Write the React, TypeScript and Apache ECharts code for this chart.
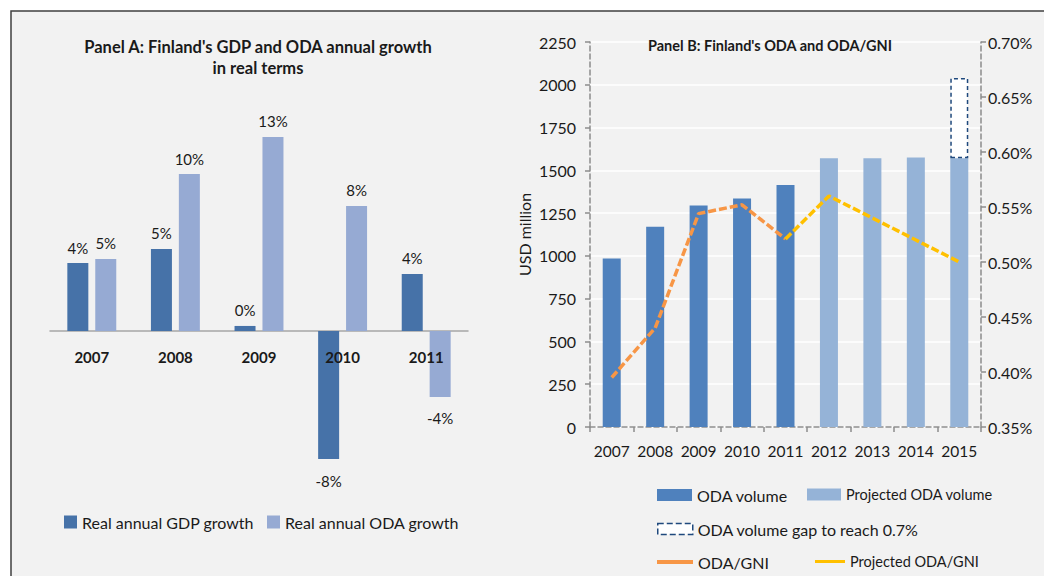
import React, { useEffect, useRef } from 'react';
import * as echarts from 'echarts';

// ---------- Panel A data ----------
const panelAYears = ['2007', '2008', '2009', '2010', '2011'];
const gdpGrowth = [4.44, 5.36, 0.33, -8.37, 3.73];
const odaGrowth = [4.71, 10.26, 12.68, 8.17, -4.31];

// ---------- Panel B data ----------
const panelBYears = ['2007', '2008', '2009', '2010', '2011', '2012', '2013', '2014', '2015'];
const odaVolume = [985, 1170, 1295, 1335, 1415, null, null, null, null];
const projectedOdaVolume = [null, null, null, null, null, 1570, 1570, 1575, 1570];
const odaGap = [null, null, null, null, null, null, null, null, 470];
const odaGni = [0.395, 0.44, 0.544, 0.552, 0.521, null, null, null, null];
const projectedOdaGni = [null, null, null, null, 0.521, 0.56, 0.54, 0.52, 0.5];

const FONT = 'Lato, "Open Sans", sans-serif';
const TXT = '#1a1a1a';
const AXIS_GRAY = '#8c8c8c';

const toPctUnits = (arr: (number | null)[]) => arr.map((v) => (v == null ? null : Math.round(v * 1000) / 10));

function barLabelData(arr: number[]) {
  return arr.map((v) => ({
    value: v,
    label: { position: v < 0 ? 'bottom' : 'top', distance: v < 0 ? 14 : 8 },
  }));
}

export default function App() {
  const ref = useRef<HTMLDivElement>(null);
  useEffect(() => {
    if (!ref.current) return;
    const chart = echarts.init(ref.current, null, { renderer: 'svg' });
    const legendText = { fontSize: 16, color: TXT, fontFamily: FONT };
    const titleStyle = {
      align: 'center',
      verticalAlign: 'middle',
      fontWeight: 'bold',
      fontFamily: FONT,
      fill: TXT,
    };
    const option: any = {
      animation: false,
      backgroundColor: '#ffffff',
      textStyle: { fontFamily: FONT },
      graphic: [
        {
          type: 'rect',
          z: -10,
          shape: { x: 11, y: 11, width: 1100, height: 700 },
          style: { fill: '#f2f2f2', stroke: '#404040', lineWidth: 1.5 },
        },
        {
          type: 'text', z: 10, x: 258, y: 47,
          style: { ...titleStyle, text: "Panel A: Finland's GDP and ODA annual growth", fontSize: 16.5 },
        },
        {
          type: 'text', z: 10, x: 258, y: 68,
          style: { ...titleStyle, text: 'in real terms', fontSize: 16.5 },
        },
        {
          type: 'text', z: 10, x: 770, y: 45,
          style: { ...titleStyle, text: "Panel B: Finland's ODA and ODA/GNI", fontSize: 14.5 },
        },
      ],
      legend: [
        {
          data: [{ name: 'Real annual GDP growth', icon: 'rect' }],
          left: 64, top: 514, padding: 0, itemWidth: 13, itemHeight: 13,
          selectedMode: false, textStyle: legendText,
        },
        {
          data: [{ name: 'Real annual ODA growth', icon: 'rect' }],
          left: 267, top: 514, padding: 0, itemWidth: 13, itemHeight: 13,
          selectedMode: false, textStyle: legendText,
        },
        {
          data: [{ name: 'ODA volume', icon: 'rect' }],
          left: 657, top: 487, padding: 0, itemWidth: 35, itemHeight: 12,
          selectedMode: false, textStyle: legendText,
        },
        {
          data: [{ name: 'Projected ODA volume', icon: 'rect' }],
          left: 807, top: 487, padding: 0, itemWidth: 34, itemHeight: 12,
          selectedMode: false, textStyle: { ...legendText, fontSize: 14.5 },
        },
        {
          data: [{ name: 'ODA volume gap to reach 0.7%', icon: 'rect' }],
          left: 657, top: 521, padding: 0, itemWidth: 35, itemHeight: 11,
          selectedMode: false, textStyle: legendText,
          itemStyle: { color: '#ffffff', borderColor: '#1f497d', borderWidth: 1.5, borderType: 'dashed' },
        },
        {
          data: [{ name: 'ODA/GNI', icon: 'rect' }],
          left: 657, top: 554, padding: 0, itemWidth: 36, itemHeight: 4,
          selectedMode: false, textStyle: legendText,
          itemStyle: { color: '#f79646', borderWidth: 0 },
        },
        {
          data: [{ name: 'Projected ODA/GNI', icon: 'rect' }],
          left: 815, top: 554, padding: 0, itemWidth: 30, itemHeight: 3,
          selectedMode: false, textStyle: { ...legendText, fontSize: 14.5 },
          itemStyle: { color: '#ffc000', borderWidth: 0 },
        },
      ],
      grid: [
        // Panel A bars
        { left: 50, width: 418, top: 101.5, height: 382.5 },
        // Panel B
        { left: 590, width: 391, top: 42, height: 385 },
        // Panel A category labels (grid ending at the zero line)
        { left: 50, width: 418, top: 101.5, height: 229.5 },
      ],
      xAxis: [
        {
          type: 'category',
          gridIndex: 0,
          data: panelAYears,
          axisLine: { onZero: true, lineStyle: { color: '#a6a6a6', width: 1.5 } },
          axisTick: { show: false },
          axisLabel: { show: false },
          splitLine: { show: false },
        },
        {
          type: 'category',
          gridIndex: 1,
          data: panelBYears,
          axisLine: { lineStyle: { color: AXIS_GRAY, width: 1.5, type: [5, 3] } },
          axisTick: { show: true, length: 5, lineStyle: { color: AXIS_GRAY, width: 1.5 } },
          axisLabel: { fontSize: 15.5, color: TXT, margin: 16, fontFamily: FONT, interval: 0 },
          splitLine: { show: false },
        },
        {
          type: 'category',
          gridIndex: 2,
          z: 10,
          data: panelAYears,
          axisLine: { show: false },
          axisTick: { show: false },
          axisLabel: { fontSize: 15, fontWeight: 'bold', color: TXT, margin: 18, fontFamily: FONT, interval: 0 },
          splitLine: { show: false },
        },
      ],
      yAxis: [
        {
          type: 'value',
          gridIndex: 0,
          min: -10,
          max: 15,
          interval: 5,
          show: false,
          splitLine: { show: false },
        },
        {
          type: 'value',
          gridIndex: 1,
          min: 0,
          max: 2250,
          interval: 250,
          name: 'USD million',
          nameLocation: 'middle',
          nameGap: 58,
          nameTextStyle: { fontSize: 16, color: TXT, fontFamily: FONT },
          axisLine: { show: true, lineStyle: { color: AXIS_GRAY, width: 1.5, type: [5, 3] } },
          axisTick: { show: true, length: 5, lineStyle: { color: AXIS_GRAY, width: 1.5 } },
          axisLabel: {
            fontSize: 16, color: TXT, margin: 14, fontFamily: FONT,
            formatter: (v: number) => String(v),
          },
          splitLine: { show: true, lineStyle: { color: '#ffffff', width: 1.5 } },
        },
        {
          type: 'value',
          gridIndex: 1,
          position: 'right',
          min: 35,
          max: 70,
          interval: 5,
          axisLine: { show: true, lineStyle: { color: AXIS_GRAY, width: 1.5, type: [5, 3] } },
          axisTick: { show: true, length: 5, lineStyle: { color: AXIS_GRAY, width: 1.5 } },
          axisLabel: {
            fontSize: 16,
            color: TXT,
            margin: 7,
            fontFamily: FONT,
            formatter: (v: number) => (v / 100).toFixed(2) + '%',
          },
          splitLine: { show: false },
        },
        {
          type: 'value',
          gridIndex: 2,
          min: 0,
          max: 1,
          show: false,
          splitLine: { show: false },
        },
      ],
      series: [
        {
          name: 'Real annual GDP growth',
          type: 'bar',
          xAxisIndex: 0,
          yAxisIndex: 0,
          barWidth: 21,
          barGap: '33%',
          data: barLabelData(gdpGrowth),
          itemStyle: { color: '#4672a8' },
          label: {
            show: true,
            fontSize: 15,
            color: TXT,
            fontFamily: FONT,
            formatter: (p: any) => Math.round(p.value) + '%',
          },
        },
        {
          name: 'Real annual ODA growth',
          type: 'bar',
          xAxisIndex: 0,
          yAxisIndex: 0,
          barWidth: 21,
          barGap: '33%',
          data: barLabelData(odaGrowth),
          itemStyle: { color: '#96aad3' },
          label: {
            show: true,
            fontSize: 15,
            color: TXT,
            fontFamily: FONT,
            formatter: (p: any) => Math.round(p.value) + '%',
          },
        },
        {
          name: 'ODA volume',
          type: 'bar',
          xAxisIndex: 1,
          yAxisIndex: 1,
          stack: 'oda',
          barWidth: 18,
          data: odaVolume,
          itemStyle: { color: '#4f81bd' },
        },
        {
          name: 'Projected ODA volume',
          type: 'bar',
          xAxisIndex: 1,
          yAxisIndex: 1,
          stack: 'oda',
          barWidth: 18,
          data: projectedOdaVolume,
          itemStyle: { color: '#95b3d7' },
        },
        {
          name: 'ODA volume gap to reach 0.7%',
          type: 'bar',
          xAxisIndex: 1,
          yAxisIndex: 1,
          stack: 'oda',
          barWidth: 18,
          data: odaGap,
          itemStyle: { color: '#ffffff', borderColor: '#1f497d', borderWidth: 1.5, borderType: [4, 3] },
        },
        {
          name: 'ODA/GNI',
          type: 'line',
          xAxisIndex: 1,
          yAxisIndex: 2,
          data: toPctUnits(odaGni),
          symbol: 'none',
          itemStyle: { color: '#f79646' },
          lineStyle: { color: '#f79646', width: 3.5, type: [8, 3] },
          z: 5,
        },
        {
          name: 'Projected ODA/GNI',
          type: 'line',
          xAxisIndex: 1,
          yAxisIndex: 2,
          data: toPctUnits(projectedOdaGni),
          symbol: 'none',
          itemStyle: { color: '#ffc000' },
          lineStyle: { color: '#ffc000', width: 3.5, type: [8, 3] },
          z: 5,
        },
      ],
    };
    chart.setOption(option);
    return () => chart.dispose();
  }, []);
  return <div ref={ref} style={{ position: 'fixed', left: 0, top: 0, width: 1044, height: 576 }} />;
}
